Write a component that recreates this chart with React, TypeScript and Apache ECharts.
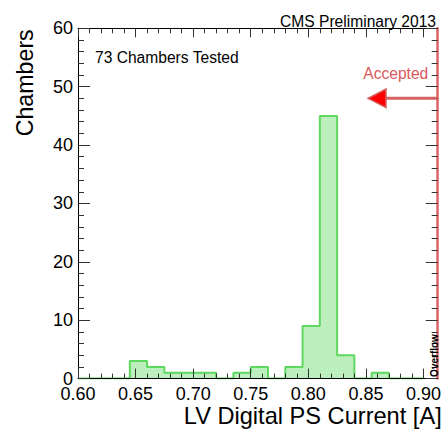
import React, { useEffect, useRef } from "react";
import * as echarts from "echarts";

// Histogram bin edges (A) and counts per bin
const binEdges = [
  0.600, 0.615, 0.630, 0.645, 0.660, 0.675, 0.690, 0.705, 0.720, 0.735, 0.750,
  0.765, 0.780, 0.795, 0.810, 0.825, 0.840, 0.855, 0.870, 0.885, 0.900,
];
const binCounts = [0, 0, 0, 3, 2, 1, 1, 1, 0, 1, 2, 0, 2, 9, 45, 4, 0, 1, 0, 0];

const xMin = 0.6;
const xMax = 0.9;
const xFrameMax = 0.911;
const xInterval = 0.05;
const yMin = 0;
const yMax = 60;
const yInterval = 10;

const FONT = "'Liberation Sans', Arial, Helvetica, sans-serif";

export default function App() {
  const ref = useRef<HTMLDivElement>(null);

  useEffect(() => {
    if (!ref.current) return;
    const chart = echarts.init(ref.current, undefined, { renderer: "svg" });

    const stepData = binEdges.map((e, i) => [
      e,
      binCounts[Math.min(i, binCounts.length - 1)],
    ]);

    const tickStyle = { color: "#333", width: 1 };

    const option: any = {
      animation: false,
      backgroundColor: "#fff",
      textStyle: { fontFamily: FONT },
      grid: [
        { left: 78, right: 19, top: 28.3, bottom: 51.4, containLabel: false },
        {
          left: 78,
          right: 6.3,
          top: 28.3,
          bottom: 51.4,
          containLabel: false,
        },
      ],
      xAxis: [
        {
          type: "value",
          gridIndex: 0,
          position: "bottom",
          min: xMin,
          max: xMax,
          interval: xInterval,
          z: 10,
          axisLine: { show: false },
          axisTick: { show: true, inside: true, length: 10, lineStyle: tickStyle },
          minorTick: { show: true, splitNumber: 5, length: 5, lineStyle: tickStyle },
          splitLine: { show: false },
          axisLabel: {
            show: true,
            margin: 6,
            fontSize: 18,
            color: "#000",
            fontFamily: FONT,
            formatter: (v: number) => v.toFixed(2),
          },
        },
        {
          type: "value",
          gridIndex: 0,
          position: "top",
          min: xMin,
          max: xMax,
          interval: xInterval,
          z: 10,
          axisLine: { show: false },
          axisTick: { show: true, inside: true, length: 9, lineStyle: tickStyle },
          minorTick: { show: true, splitNumber: 5, length: 5, lineStyle: tickStyle },
          splitLine: { show: false },
          axisLabel: { show: false },
        },
        {
          type: "value",
          gridIndex: 1,
          position: "bottom",
          min: xMin,
          max: xFrameMax,
          z: 10,
          axisLine: { show: true, lineStyle: { color: "#000", width: 1 } },
          axisTick: { show: false },
          splitLine: { show: false },
          axisLabel: { show: false },
        },
        {
          type: "value",
          gridIndex: 1,
          position: "top",
          min: xMin,
          max: xFrameMax,
          z: 10,
          axisLine: { show: true, lineStyle: { color: "#000", width: 1 } },
          axisTick: { show: false },
          splitLine: { show: false },
          axisLabel: { show: false },
        },
      ],
      yAxis: [
        {
          type: "value",
          gridIndex: 0,
          position: "left",
          min: yMin,
          max: yMax,
          interval: yInterval,
          z: 10,
          axisLine: { show: true, lineStyle: { color: "#000", width: 1 } },
          axisTick: { show: true, inside: true, length: 12, lineStyle: tickStyle },
          minorTick: { show: true, splitNumber: 5, length: 6, lineStyle: tickStyle },
          splitLine: { show: false },
          axisLabel: {
            show: true,
            margin: 5,
            fontSize: 18,
            color: "#000",
            fontFamily: FONT,
          },
        },
        {
          type: "value",
          gridIndex: 1,
          position: "right",
          min: yMin,
          max: yMax,
          interval: yInterval,
          z: 10,
          axisLine: { show: true, lineStyle: { color: "#dc6464", width: 2.5 } },
          axisTick: { show: true, inside: true, length: 12, lineStyle: tickStyle },
          minorTick: { show: true, splitNumber: 5, length: 6, lineStyle: tickStyle },
          splitLine: { show: false },
          axisLabel: { show: false },
        },
      ],
      series: [
        {
          type: "line",
          xAxisIndex: 0,
          yAxisIndex: 0,
          step: "end",
          data: stepData,
          showSymbol: false,
          symbol: "none",
          z: 2,
          lineStyle: { color: "#5fd85f", width: 2 },
          areaStyle: { color: "#bdeebd", opacity: 1 },
        },
      ],
      graphic: [
        {
          type: "text",
          x: 436,
          y: 21.2,
          style: {
            text: "CMS Preliminary 2013",
            font: `15.6px ${FONT}`,
            fill: "#000",
            align: "right",
            verticalAlign: "middle",
          },
        },
        {
          type: "text",
          x: 95,
          y: 57.8,
          style: {
            text: "73 Chambers Tested",
            font: `15.6px ${FONT}`,
            fill: "#000",
            align: "left",
            verticalAlign: "middle",
          },
        },
        {
          type: "text",
          x: 428.3,
          y: 73.8,
          style: {
            text: "Accepted",
            font: `15.6px ${FONT}`,
            fill: "#d9595d",
            align: "right",
            verticalAlign: "middle",
          },
        },
        {
          type: "line",
          shape: { x1: 437, y1: 98.3, x2: 384, y2: 98.3 },
          style: { stroke: "#d46060", lineWidth: 3 },
          z: 20,
        },
        {
          type: "polygon",
          shape: {
            points: [
              [368, 98.3],
              [386, 89],
              [386, 107.6],
            ],
          },
          style: { fill: "#ff0000", stroke: "#d46060", lineWidth: 1.5 },
          z: 21,
        },
        {
          type: "text",
          x: 434,
          y: 355.5,
          rotation: Math.PI / 2,
          style: {
            text: "Overflow",
            font: `bold 10px ${FONT}`,
            fill: "#000",
            align: "center",
            verticalAlign: "middle",
          },
          z: 20,
        },
        {
          type: "text",
          x: 441.7,
          y: 415.7,
          style: {
            text: "LV Digital PS Current [A]",
            font: `23.6px ${FONT}`,
            fill: "#000",
            align: "right",
            verticalAlign: "middle",
          },
        },
        {
          type: "text",
          x: 25,
          y: 29.3,
          rotation: Math.PI / 2,
          style: {
            text: "Chambers",
            font: `23.2px ${FONT}`,
            fill: "#000",
            align: "right",
            verticalAlign: "middle",
          },
        },
      ],
    };

    chart.setOption(option);
    return () => chart.dispose();
  }, []);

  return (
    <div
      ref={ref}
      style={{ position: "absolute", left: 0, top: 0, width: 444, height: 430 }}
    />
  );
}
